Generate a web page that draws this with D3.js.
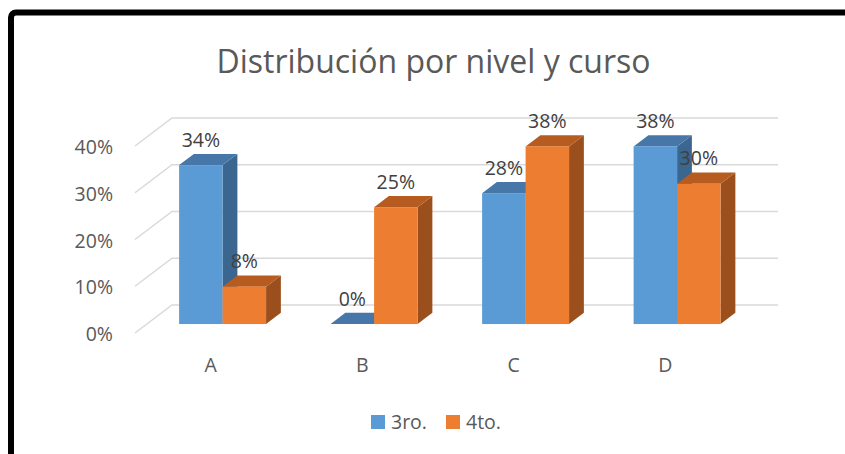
<!DOCTYPE html>
<html>
<head>
<meta charset="utf-8">
<script src="https://cdn.jsdelivr.net/npm/d3@7"></script>
<style>
  body { margin: 0; background: #fff; }
  svg { display: block; font-family: "Open Sans", sans-serif; }
</style>
</head>
<body>
<svg id="chart" width="845" height="454"></svg>
<script>
// Data
var categories = ["A", "B", "C", "D"];
var seriesNames = ["3ro.", "4to."];
var values3ro = [0.34, 0.00, 0.28, 0.38];
var values4to = [0.08, 0.25, 0.38, 0.30];
var yTicks = [0, 0.1, 0.2, 0.3, 0.4];

var svg = d3.select("#chart");

// frame (only left and top edges show in the crop)
svg.append("rect")
    .attr("x", 11).attr("y", 12.5)
    .attr("width", 900).attr("height", 500)
    .attr("rx", 5)
    .attr("fill", "#fff")
    .attr("stroke", "#000")
    .attr("stroke-width", 6);

// colours: front, top, side
var colors = {
  "3ro.": {front: "#5b9bd5", top: "#4677a8", side: "#3b6690"},
  "4to.": {front: "#ed7d31", top: "#b75c20", side: "#9a4f1c"}
};

// floor depth vector and where the bars sit inside it
var depth = {dx: 37, dy: -28},
    f1 = 0.32, f2 = 0.72;

var x0 = d3.scaleBand()
    .domain(categories)
    .range([135, 741])
    .paddingInner(0.426)
    .paddingOuter(0.213);

var x1 = d3.scaleBand()
    .domain(seriesNames)
    .range([0, x0.bandwidth()]);

var y = d3.scaleLinear()
    .domain([0, 0.4])
    .range([333, 146]);

var fmt = d3.format(".0%");

// Title
svg.append("text")
    .attr("x", 433.5)
    .attr("y", 73)
    .attr("text-anchor", "middle")
    .attr("font-size", 32)
    .attr("fill", "#595959")
    .text("Distribución por nivel y curso");

// gridlines: floor diagonal + back wall line
var grid = svg.append("g")
    .attr("stroke", "#d9d9d9")
    .attr("stroke-width", 1.5)
    .attr("fill", "none");

grid.selectAll("path")
  .data(yTicks)
  .enter().append("path")
    .attr("d", function(d) {
      var x0s = x0.range()[0], x0e = x0.range()[1];
      return "M" + x0s + "," + y(d) +
        "L" + (x0s + depth.dx) + "," + (y(d) + depth.dy) +
        "L" + (x0e + depth.dx) + "," + (y(d) + depth.dy);
    });

// y labels
svg.append("g")
    .attr("font-size", 19.5)
    .attr("fill", "#595959")
    .attr("text-anchor", "end")
  .selectAll("text")
  .data(yTicks)
  .enter().append("text")
    .attr("x", 113)
    .attr("y", function(d) { return y(d) + 8; })
    .text(function(d) { return fmt(d); });

// category labels
svg.append("g")
    .attr("font-size", 19.5)
    .attr("fill", "#595959")
    .attr("text-anchor", "middle")
  .selectAll("text")
  .data(categories)
  .enter().append("text")
    .attr("x", function(d) { return x0(d) + x0.bandwidth() / 2; })
    .attr("y", y(0) + 39)
    .text(function(d) { return d; });

// bars
var rows = categories.map(function(c, i) {
  return [
    {cat: c, key: "3ro.", value: values3ro[i]},
    {cat: c, key: "4to.", value: values4to[i]}
  ];
});

var w = x1.bandwidth(),
    bdx = (f2 - f1) * depth.dx,
    bdy = (f2 - f1) * depth.dy;

function pts(arr) { return arr.map(function(p) { return p.join(","); }).join(" "); }

var bars = svg.append("g")
  .selectAll("g")
  .data(d3.merge(rows))
  .enter().append("g");

bars.each(function(d) {
  var g = d3.select(this),
      xf = x0(d.cat) + x1(d.key) + f1 * depth.dx,
      yt = y(d.value) + f1 * depth.dy,
      yb = y(0) + f1 * depth.dy,
      c = colors[d.key];

  g.append("polygon")
      .attr("points", pts([[xf + w, yt], [xf + w + bdx, yt + bdy], [xf + w + bdx, yb + bdy], [xf + w, yb]]))
      .attr("fill", c.side);
  g.append("polygon")
      .attr("points", pts([[xf, yt], [xf + w, yt], [xf + w + bdx, yt + bdy], [xf + bdx, yt + bdy]]))
      .attr("fill", c.top);
  g.append("rect")
      .attr("x", xf)
      .attr("y", yt)
      .attr("width", w)
      .attr("height", yb - yt)
      .attr("fill", c.front);
});

// data labels
svg.append("g")
    .attr("font-size", 19.5)
    .attr("fill", "#404040")
    .attr("text-anchor", "middle")
  .selectAll("text")
  .data(d3.merge(rows))
  .enter().append("text")
    .attr("x", function(d) { return x0(d.cat) + x1(d.key) + f1 * depth.dx + w / 2; })
    .attr("y", function(d) { return y(d.value) + f1 * depth.dy - 18.5; })
    .text(function(d) { return fmt(d.value); });

// legend
var legend = svg.append("g")
    .attr("font-size", 19.5)
    .attr("fill", "#595959")
  .selectAll("g")
  .data(seriesNames)
  .enter().append("g")
    .attr("transform", function(d, i) { return "translate(" + (371 + i * 75) + ",415)"; });

legend.append("rect")
    .attr("width", 14)
    .attr("height", 14)
    .attr("fill", function(d) { return colors[d].front; });

legend.append("text")
    .attr("x", 20)
    .attr("y", 14)
    .text(function(d) { return d; });
</script>
</body>
</html>
